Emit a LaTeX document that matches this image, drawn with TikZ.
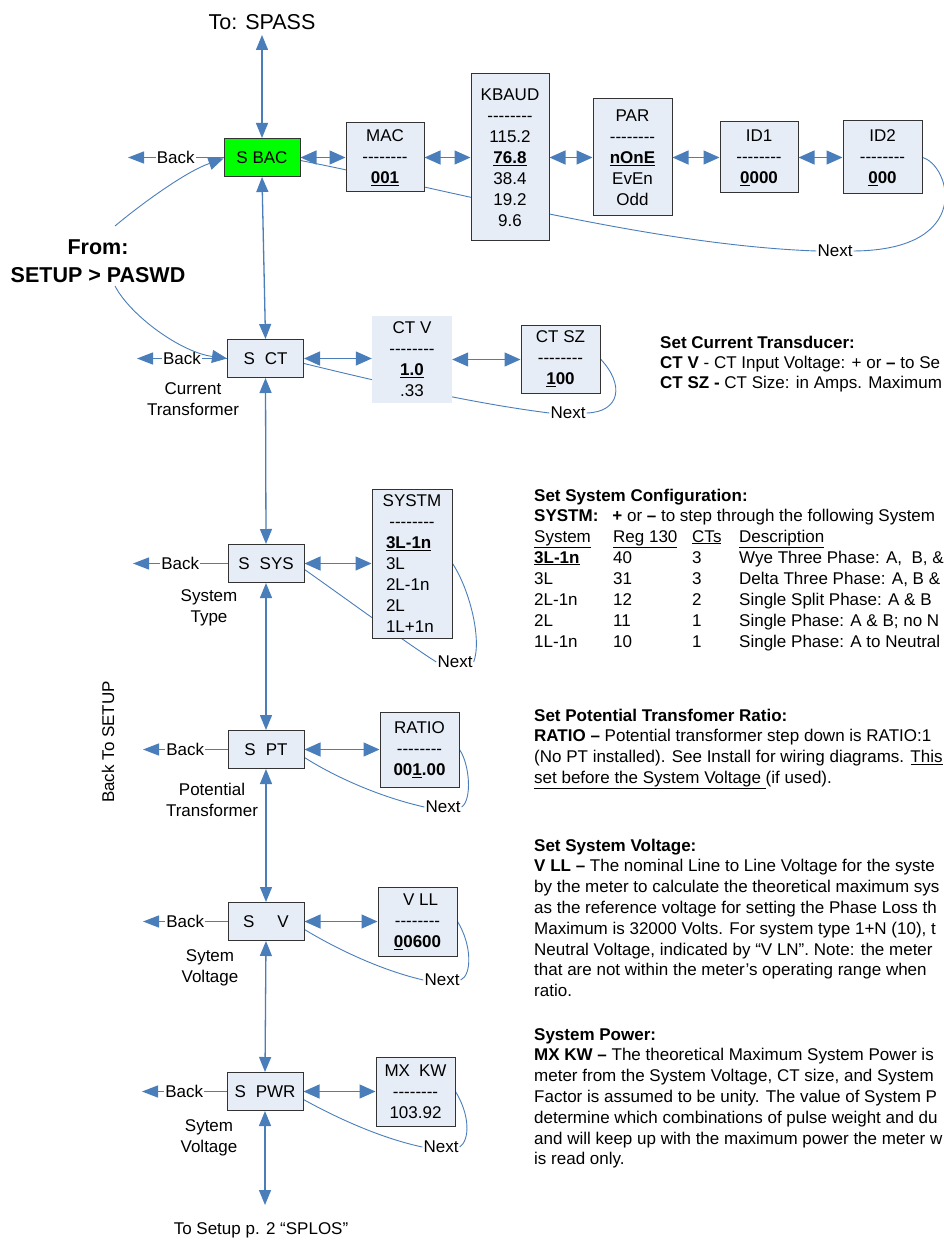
\documentclass[tikz,border=0pt]{standalone}
\usepackage{fontspec}
\setmainfont{Liberation Sans}
\usetikzlibrary{arrows.meta}
\definecolor{arr}{RGB}{74,126,187}
\definecolor{boxfill}{RGB}{230,237,247}
\definecolor{sgreen}{RGB}{0,255,0}
\newcommand{\dashes}{-{}-{}-{}-{}-{}-{}-{}-}
\newcommand{\fs}{\fontsize{17}{21}\selectfont}
\newcommand{\rfs}{\fontsize{17}{20.8}\selectfont}
\pgfdeclarelayer{paper}
\pgfdeclarelayer{bg}
\pgfsetlayers{paper,bg,main}
\begin{document}
\begin{tikzpicture}[x=1pt,y=-1pt,
  every node/.style={font=\fs, inner sep=0pt},
  sbox/.style={draw=black!80, line width=1pt, fill=boxfill, minimum width=76pt, minimum height=38pt},
  vbox/.style={draw=black!80, line width=1pt, fill=boxfill, align=center},
  dbl/.style={draw=arr, line width=1.3pt, {Triangle[length=16pt,width=14pt]}-{Triangle[length=16pt,width=14pt]}},
  vdbl/.style={draw=arr, line width=1.3pt, {Triangle[length=15pt,width=12pt]}-{Triangle[length=15pt,width=12pt]}},
  backarr/.style={draw=arr, line width=1.3pt, -{Triangle[length=16pt,width=12pt]}},
  fromarr/.style={draw=arr, line width=0.9pt, -{Triangle[length=15pt,width=13pt]}},
  nextl/.style={draw=arr, line width=0.9pt},
  lbl/.style={fill=white, inner sep=1pt},
  rt/.style={anchor=base west, font=\rfs},
]
\useasboundingbox (0,0) rectangle (943,1241);
\begin{pgfonlayer}{paper}\fill[white] (0,0) rectangle (943,1241);\end{pgfonlayer}
\clip (0,0) rectangle (943,1241);

% ---- main column boxes
\node[sbox, fill=sgreen] (SBAC) at (262,157.5) {S BAC};
\node[sbox] (SCT) at (265.5,358.5) {S\hspace{10pt}CT};
\node[sbox] (SSYS) at (266,563.5) {S\hspace{10pt}SYS};
\node[sbox] (SPT) at (266,749.5) {S\hspace{10pt}PT};
\node[sbox] (SV) at (266,921.5) {S\hspace{23pt}V};
\node[sbox] (SPWR) at (265,1091.5) {S\hspace{10pt}PWR};

% ---- value boxes
\node[vbox, minimum width=78pt, minimum height=69pt] (MAC) at (385,157.5) {MAC\\\dashes\\\textbf{\underline{001}}};
\node[vbox, minimum width=78pt, minimum height=167pt] (KBAUD) at (510,157.5) {KBAUD\\\dashes\\115.2\\\textbf{\underline{76.8}}\\38.4\\19.2\\9.6};
\node[vbox, minimum width=79pt, minimum height=117pt] (PAR) at (632.5,157.5) {PAR\\\dashes\\\textbf{\underline{nOnE}}\\EvEn\\Odd};
\node[vbox, minimum width=78pt, minimum height=71pt] (ID1) at (759,157.5) {ID1\\\dashes\\\textbf{\underline{0}000}};
\node[vbox, minimum width=79pt, minimum height=73pt] (ID2) at (882.5,157.5) {ID2\\\dashes\\\textbf{\underline{0}00}};
\node[fill=boxfill, align=center, minimum width=80pt, minimum height=87pt] (CTV) at (412,359.5) {CT V\\\dashes\\\textbf{\underline{1.0}}\\.33};
\node[vbox, minimum width=79pt, minimum height=68pt] (CTSZ) at (560.5,359) {CT SZ\\\dashes\\\textbf{\underline{1}00}};
\node[vbox, align=left, text width=52pt, minimum width=80pt, minimum height=149pt] (SYSTM) at (412,563.5) {\makebox[52pt]{SYSTM}\\\makebox[52pt]{\dashes}\\\textbf{\underline{3L-1n}}\\3L\\2L-1n\\2L\\1L+1n};
\node[vbox, minimum width=79pt, minimum height=75pt] (RATIO) at (419.5,749.5) {RATIO\\\dashes\\\textbf{00\underline{1}.00}};
\node[vbox, minimum width=79pt, minimum height=69pt] (VLL) at (417.5,921.5) {\hspace{6pt}V LL\\\dashes\\\textbf{\underline{0}0600}};
\node[vbox, minimum width=79pt, minimum height=69pt] (MXKW) at (415.5,1091.5) {MX\hspace{9pt}KW\\\dashes\\103.92};

% ---- labels
\node (tospass) at (262,22) {\fontsize{21.5}{26}\selectfont To: SPASS};
\node (tosetup) at (261,1230) {To Setup p. 2 “SPLOS”};
\node[align=center, font=\bfseries\fontsize{21.5}{28}\selectfont] (from) at (98,261.5) {From:\\SETUP > PASWD};
\node[rotate=90] (bts) at (108,742) {Back To SETUP};
\node[align=center] (lCT) at (193,399.5) {Current\\Transformer};
\node[align=center] (lSYS) at (209,607.5) {System\\Type};
\node[align=center] (lPT) at (212,799.5) {Potential\\Transformer};
\node[align=center] (lV) at (210,968) {Sytem\\Voltage};
\node[align=center] (lPWR) at (209,1138) {Sytem\\Voltage};

\node[lbl] (nx0) at (835,251) {Next};
\node[lbl] (nx1) at (568,413) {Next};
\node[lbl] (nx2) at (455,662) {Next};
\node[lbl] (nx3) at (443,807) {Next};
\node[lbl] (nx4) at (442,980) {Next};
\node[lbl] (nx5) at (441,1147) {Next};

% ---- vertical connectors
\coordinate (topend) at (262,35);
\coordinate (botend) at (265,1205);
\draw[vdbl] (SBAC.north) -- (topend);
\draw[vdbl] (SBAC.south) -- (SCT.north);
\draw[vdbl] (SCT.south) -- (SSYS.north);
\draw[vdbl] (SSYS.south) -- (SPT.north);
\draw[vdbl] (SPT.south) -- (SV.north);
\draw[vdbl] (SV.south) -- (SPWR.north);
\draw[vdbl] (SPWR.south) -- (botend);

% ---- back arrows
\coordinate (bk0) at (128,157.5);
\coordinate (bk1) at (137,358.5);
\coordinate (bk2) at (133,563.5);
\coordinate (bk3) at (143,749.5);
\coordinate (bk4) at (143,921.5);
\coordinate (bk5) at (142,1091.5);
\draw[backarr] (SBAC.west) -- node[lbl] (b0) {Back} (bk0);
\draw[backarr] (SCT.west) -- node[lbl] (b1) {Back} (bk1);
\draw[backarr] (SSYS.west) -- node[lbl] (b2) {Back} (bk2);
\draw[backarr] (SPT.west) -- node[lbl] (b3) {Back} (bk3);
\draw[backarr] (SV.west) -- node[lbl] (b4) {Back} (bk4);
\draw[backarr] (SPWR.west) -- node[lbl] (b5) {Back} (bk5);

% ---- horizontal double arrows
\draw[dbl] (SBAC.east) -- (SBAC.east -| MAC.west);
\draw[dbl] (MAC.east) -- (MAC.east -| KBAUD.west);
\draw[dbl] (KBAUD.east) -- (KBAUD.east -| PAR.west);
\draw[dbl] (PAR.east) -- (PAR.east -| ID1.west);
\draw[dbl] (ID1.east) -- (ID1.east -| ID2.west);
\draw[dbl] (SCT.east) -- (SCT.east -| CTV.west);
\draw[dbl] (CTV.east) -- (CTV.east -| CTSZ.west);
\draw[dbl] (SSYS.east) -- (SSYS.east -| SYSTM.west);
\draw[dbl] (SPT.east) -- (SPT.east -| RATIO.west);
\draw[dbl] (SV.east) -- (SV.east -| VLL.west);
\draw[dbl] (SPWR.east) -- (SPWR.east -| MXKW.west);

% ---- from PASWD
\coordinate (f1) at (115,226);
\coordinate (f2) at (115,286);
\draw[fromarr] (f1) .. controls (140,205) and (185,172) .. ([yshift=-1pt]SBAC.west);
\draw[fromarr] (f2) .. controls (130,315) and (180,352) .. (SCT.west);

% ---- Next loops (behind boxes)
\begin{pgfonlayer}{bg}
\draw[nextl] (ID2.east) .. controls (950,165) and (975,250) .. (nx0.east);
\draw[nextl] (nx0.west) .. controls (650,245) and (450,190) .. ([yshift=-3pt]SBAC.east);
\draw[nextl] (CTSZ.east) .. controls (625,385) and (620,412) .. (nx1.east);
\draw[nextl] (nx1.west) .. controls (470,403) and (380,382) .. ([yshift=-5pt]SCT.east);
\draw[nextl] (SYSTM.east) .. controls (470,590) and (482,640) .. (nx2.east);
\draw[nextl] (nx2.west) .. controls (405,642) and (345,598) .. ([yshift=-6pt]SSYS.east);
\draw[nextl] (RATIO.east) .. controls (470,765) and (472,800) .. (nx3.east);
\draw[nextl] (nx3.west) .. controls (380,797) and (335,777) .. ([yshift=-8pt]SPT.east);
\draw[nextl] (VLL.east) .. controls (472,945) and (472,975) .. (nx4.east);
\draw[nextl] (nx4.west) .. controls (380,970) and (335,948) .. ([yshift=-8pt]SV.east);
\draw[nextl] (MXKW.east) .. controls (470,1115) and (470,1140) .. (nx5.east);
\draw[nextl] (nx5.west) .. controls (380,1138) and (335,1117) .. ([yshift=-8pt]SPWR.east);
\end{pgfonlayer}

% ---- right-hand text
\node[rt] (c1) at (660,348) {\textbf{Set Current Transducer:}};
\node[rt] (c2) at (660,368) {\textbf{CT V} - CT Input Voltage: + or \textbf{–} to Se};
\node[rt] (c3) at (660,388) {\textbf{CT SZ -} CT Size: in Amps. Maximum};

\node[rt] (s1) at (534,501) {\textbf{Set System Configuration:}};
\node[rt] (s2) at (534,521) {\textbf{SYSTM:}\hspace{14pt}\textbf{+} or \textbf{–} to step through the following System};
\node[rt] (s3) at (534,542) {\makebox[79pt][l]{\underline{System}}\makebox[79pt][l]{\underline{Reg 130}}\makebox[47pt][l]{\underline{CTs}}\underline{Description}};
\node[rt] (s4) at (534,563) {\makebox[79pt][l]{\textbf{\underline{3L-1n}}}\makebox[79pt][l]{40}\makebox[47pt][l]{3}Wye Three Phase: A,\ \ B, \&};
\node[rt] (s5) at (534,584) {\makebox[79pt][l]{3L}\makebox[79pt][l]{31}\makebox[47pt][l]{3}Delta Three Phase: A, B \&};
\node[rt] (s6) at (534,605) {\makebox[79pt][l]{2L-1n}\makebox[79pt][l]{12}\makebox[47pt][l]{2}Single Split Phase: A \& B};
\node[rt] (s7) at (534,626) {\makebox[79pt][l]{2L}\makebox[79pt][l]{11}\makebox[47pt][l]{1}Single Phase: A \& B; no N};
\node[rt] (s8) at (534,647) {\makebox[79pt][l]{1L-1n}\makebox[79pt][l]{10}\makebox[47pt][l]{1}Single Phase: A to Neutral};

\node[rt] (p1) at (534,721) {\textbf{Set Potential Transfomer Ratio:}};
\node[rt] (p2) at (534,741.8) {\textbf{RATIO –} Potential transformer step down is RATIO:1};
\node[rt] (p3) at (534,762.6) {(No PT installed). See Install for wiring diagrams. \underline{This}};
\node[rt] (p4) at (534,783.4) {\underline{set before the System Voltage }(if used).};

\node[rt] (v1) at (534,851) {\textbf{Set System Voltage:}};
\node[rt] (v2) at (534,871.8) {\textbf{V LL –} The nominal Line to Line Voltage for the syste};
\node[rt] (v3) at (534,892.6) {by the meter to calculate the theoretical maximum sys};
\node[rt] (v4) at (534,913.4) {as the reference voltage for setting the Phase Loss th};
\node[rt] (v5) at (534,934.2) {Maximum is 32000 Volts. For system type 1+N (10), t};
\node[rt] (v6) at (534,955) {Neutral Voltage, indicated by “V LN”. Note: the meter};
\node[rt] (v7) at (534,975.8) {that are not within the meter’s operating range when};
\node[rt] (v8) at (534,996.6) {ratio.};

\node[rt] (w1) at (534,1040) {\textbf{System Power:}};
\node[rt] (w2) at (534,1060.8) {\textbf{MX KW –} The theoretical Maximum System Power is};
\node[rt] (w3) at (534,1081.6) {meter from the System Voltage, CT size, and System};
\node[rt] (w4) at (534,1102.4) {Factor is assumed to be unity. The value of System P};
\node[rt] (w5) at (534,1123.2) {determine which combinations of pulse weight and du};
\node[rt] (w6) at (534,1144) {and will keep up with the maximum power the meter w};
\node[rt] (w7) at (534,1164.8) {is read only.};
\end{tikzpicture}
\end{document}
